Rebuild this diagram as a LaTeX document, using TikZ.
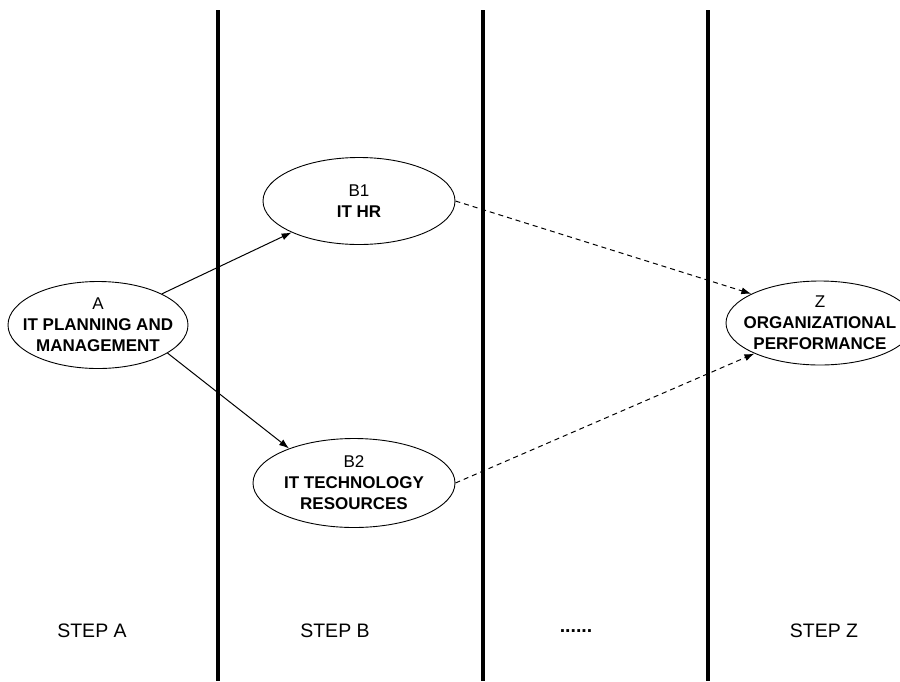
\documentclass[tikz,border=0pt]{standalone}
\usepackage{fontspec}
\setmainfont{Liberation Sans}
\usetikzlibrary{arrows.meta,shapes.geometric}
\begin{document}
\begin{tikzpicture}[x=1pt,y=-1pt,
  stage/.style={ellipse, draw, line width=0.9pt, inner sep=0pt},
  stagetext/.style={align=center, inner sep=0pt,
    font=\fontsize{17}{21}\selectfont},
  divider/.style={line width=4pt},
  steplabel/.style={font=\fontsize{19.5}{22}\selectfont, inner sep=0pt},
  arr/.style={line width=1pt, -{Latex[length=10pt,width=7pt]}},
  darr/.style={arr, dash pattern=on 5pt off 4pt}]
\useasboundingbox (0,0) rectangle (900,681);
\clip (0,0) rectangle (900,681);
\draw[divider] (218,10) -- (218,681);
\draw[divider] (483,10) -- (483,681);
\draw[divider] (708,10) -- (708,681);
\node[stage, minimum width=180pt, minimum height=87pt] (A) at (98,325) {};
\node[stagetext] (At) at (A) {A\\\textbf{IT PLANNING AND}\\\textbf{MANAGEMENT}};
\node[stage, minimum width=192pt, minimum height=87pt] (B1) at (359,201) {};
\node[stagetext] (B1t) at (B1) {B1\\\textbf{IT HR}};
\node[stage, minimum width=202pt, minimum height=89pt] (B2) at (354,483) {};
\node[stagetext] (B2t) at (B2) {B2\\\textbf{IT TECHNOLOGY}\\\textbf{RESOURCES}};
\node[stage, minimum width=188pt, minimum height=84pt] (Z) at (820,323) {};
\node[stagetext] (Zt) at (Z) {Z\\\textbf{ORGANIZATIONAL}\\\textbf{PERFORMANCE}};
\draw[arr] (A.26) -- (B1.205);
\draw[arr] (A.-22) -- (B2.152);
\draw[darr] (B1.east) -- (Z.157);
\draw[darr] (B2.east) -- (Z.205);
\node[steplabel] (sa) at (92,631) {STEP A};
\node[steplabel] (sb) at (335,631) {STEP B};
\node[steplabel] (sd) at (576,631) {\textbf{......}};
\node[steplabel] (sz) at (824,631) {STEP Z};
\end{tikzpicture}
\end{document}
